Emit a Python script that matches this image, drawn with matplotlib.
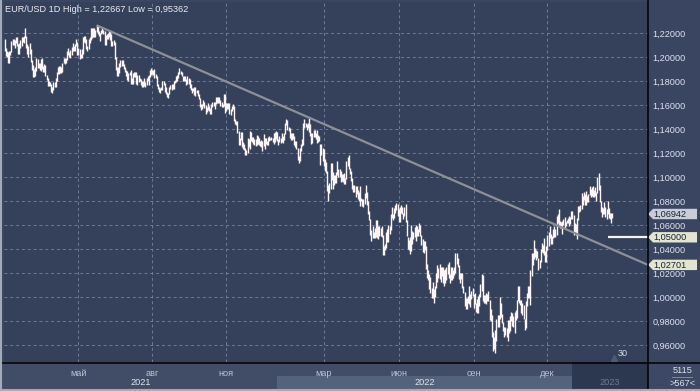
import numpy as np
import pandas as pd
import matplotlib
matplotlib.use("Agg")
import matplotlib.pyplot as plt
from matplotlib.patches import Rectangle, Polygon
from matplotlib.transforms import blended_transform_factory

plt.rcParams["font.family"] = ["Liberation Sans", "DejaVu Sans"]

# --- donnees (barres journalieres EUR/USD, plus haut / plus bas) ---
hi_2021 = [
    1.2150, 1.2080, 1.2050, 1.2040, 1.2050, 1.2055, 1.2135, 1.2150, 1.2150, 1.2140, 1.2170, 1.2170, 1.2110, 1.2120, 1.2145, 1.2170, 1.2170, 1.2180, 1.2243, 1.2180,  # fev
    1.2110, 1.2095, 1.2115, 1.2070, 1.1975, 1.1935, 1.1905, 1.1915, 1.1990, 1.1985, 1.1950, 1.1955, 1.1985, 1.1990, 1.1930, 1.1945, 1.1935, 1.1850, 1.1830, 1.1800, 1.1795, 1.1775, 1.1750,  # mar
    1.1790, 1.1790, 1.1830, 1.1880, 1.1915, 1.1930, 1.1925, 1.1915, 1.1955, 1.1990, 1.1990, 1.1995, 1.2050, 1.2080, 1.2045, 1.2060, 1.2085, 1.2115, 1.2090, 1.2110, 1.2150, 1.2125,  # avr
    1.2080, 1.2065, 1.2030, 1.2070, 1.2170, 1.2180, 1.2180, 1.2150, 1.2090, 1.2150, 1.2165, 1.2245, 1.2240, 1.2245, 1.2245, 1.2230, 1.22667, 1.2265, 1.2215, 1.2205, 1.2230,  # mai
    1.2255, 1.2230, 1.2215, 1.2185, 1.2195, 1.2200, 1.2220, 1.2220, 1.2190, 1.2135, 1.2140, 1.2130, 1.2000, 1.1920, 1.1920, 1.1955, 1.1975, 1.1975, 1.1975, 1.1945, 1.1920, 1.1895,  # juin
    1.1885, 1.1870, 1.1880, 1.1895, 1.1825, 1.1870, 1.1880, 1.1880, 1.1880, 1.1850, 1.1850, 1.1825, 1.1815, 1.1805, 1.1800, 1.1830, 1.1790, 1.1830, 1.1840, 1.1850, 1.1895, 1.1910,  # juil
    1.1895, 1.1890, 1.1900, 1.1860, 1.1840, 1.1775, 1.1755, 1.1740, 1.1750, 1.1800, 1.1800, 1.1785, 1.1750, 1.1710, 1.1705, 1.1750, 1.1765, 1.1775, 1.1780, 1.1805, 1.1810, 1.1845,  # aout
    1.1855, 1.1875, 1.1909, 1.1885, 1.1880, 1.1845, 1.1845, 1.1845, 1.1815, 1.1845, 1.1830, 1.1820, 1.1775, 1.1740, 1.1745, 1.1750, 1.1750, 1.1725, 1.1725, 1.1690, 1.1660, 1.1610,  # sep
    1.1610, 1.1640, 1.1625, 1.1600, 1.1585, 1.1620, 1.1590, 1.1575, 1.1610, 1.1625, 1.1625, 1.1625, 1.1670, 1.1665, 1.1670, 1.1665, 1.1640, 1.1625, 1.1610, 1.1692, 1.1690,  # oct
    1.1615, 1.1615, 1.1620, 1.1615, 1.1570, 1.1590, 1.1610, 1.1595, 1.1485, 1.1465, 1.1465, 1.1385, 1.1325, 1.1375, 1.1375, 1.1290, 1.1275, 1.1245, 1.1225, 1.1325, 1.1315, 1.1385,  # nov
    1.1380, 1.1335, 1.1335, 1.1315, 1.1320, 1.1355, 1.1345, 1.1325, 1.1305, 1.1310, 1.1300, 1.1360, 1.1330, 1.1330, 1.1305, 1.1335, 1.1340, 1.1330, 1.1335, 1.1330, 1.1365, 1.1375, 1.1385,  # dec
]
lo_2021 = [
    1.2055, 1.2010, 1.2005, 1.1955, 1.1952, 1.2015, 1.2040, 1.2100, 1.2105, 1.2080, 1.2115, 1.2090, 1.2025, 1.2025, 1.2080, 1.2090, 1.2130, 1.2115, 1.2160, 1.2075,
    1.2025, 1.2000, 1.2030, 1.1960, 1.1893, 1.1835, 1.1835, 1.1840, 1.1885, 1.1910, 1.1910, 1.1895, 1.1885, 1.1900, 1.1875, 1.1875, 1.1840, 1.1810, 1.1760, 1.1760, 1.1760, 1.1710, 1.1704,
    1.1730, 1.1750, 1.1750, 1.1800, 1.1860, 1.1860, 1.1870, 1.1870, 1.1880, 1.1950, 1.1945, 1.1950, 1.1980, 1.2020, 1.2000, 1.1995, 1.2015, 1.2055, 1.2050, 1.2055, 1.2095, 1.2015,
    1.2015, 1.1985, 1.1990, 1.1990, 1.2030, 1.2125, 1.2120, 1.2070, 1.2050, 1.2070, 1.2120, 1.2140, 1.2160, 1.2170, 1.2170, 1.2165, 1.2210, 1.2195, 1.2175, 1.2135, 1.2190,
    1.2200, 1.2190, 1.2105, 1.2105, 1.2155, 1.2155, 1.2170, 1.2145, 1.2095, 1.2090, 1.2105, 1.1985, 1.1890, 1.1847, 1.1845, 1.1870, 1.1915, 1.1925, 1.1930, 1.1905, 1.1880, 1.1845,
    1.1810, 1.1805, 1.1850, 1.1780, 1.1780, 1.1780, 1.1835, 1.1835, 1.1775, 1.1770, 1.1790, 1.1800, 1.1765, 1.1755, 1.1752, 1.1760, 1.1750, 1.1765, 1.1800, 1.1770, 1.1835, 1.1855,
    1.1860, 1.1850, 1.1825, 1.1825, 1.1760, 1.1735, 1.1710, 1.1705, 1.1725, 1.1730, 1.1765, 1.1710, 1.1695, 1.1665, 1.1664, 1.1690, 1.1735, 1.1725, 1.1735, 1.1735, 1.1785, 1.1790,
    1.1800, 1.1825, 1.1860, 1.1860, 1.1840, 1.1800, 1.1800, 1.1805, 1.1770, 1.1780, 1.1780, 1.1745, 1.1725, 1.1700, 1.1715, 1.1685, 1.1680, 1.1700, 1.1675, 1.1650, 1.1585, 1.1563,
    1.1570, 1.1590, 1.1580, 1.1530, 1.1545, 1.1560, 1.1550, 1.1525, 1.1530, 1.1585, 1.1590, 1.1570, 1.1610, 1.1620, 1.1620, 1.1620, 1.1590, 1.1585, 1.1585, 1.1590, 1.1535,
    1.1555, 1.1570, 1.1570, 1.1530, 1.1515, 1.1555, 1.1570, 1.1465, 1.1445, 1.1432, 1.1370, 1.1265, 1.1265, 1.1310, 1.1250, 1.1235, 1.1225, 1.1186, 1.1185, 1.1205, 1.1255, 1.1235,
    1.1305, 1.1290, 1.1275, 1.1270, 1.1260, 1.1265, 1.1275, 1.1265, 1.1260, 1.1255, 1.1222, 1.1260, 1.1235, 1.1275, 1.1265, 1.1270, 1.1300, 1.1310, 1.1310, 1.1290, 1.1280, 1.1295, 1.1320,
]
hi_2022 = [
    1.1375, 1.1320, 1.1345, 1.1330, 1.1365, 1.1345, 1.1370, 1.1450, 1.1482, 1.1480, 1.1420, 1.1410, 1.1365, 1.1370, 1.1365, 1.1340, 1.1305, 1.1300, 1.1245, 1.1175, 1.1240,  # jan
    1.1275, 1.1320, 1.1450, 1.1485, 1.1450, 1.1445, 1.1450, 1.1495, 1.1440, 1.1370, 1.1365, 1.1395, 1.1395, 1.1370, 1.1395, 1.1355, 1.1345, 1.1275, 1.1275, 1.1245,  # fev
    1.1235, 1.1150, 1.1125, 1.1055, 1.0935, 1.0950, 1.1120, 1.1120, 1.1040, 1.1015, 1.1015, 1.1040, 1.1137, 1.1070, 1.1070, 1.1050, 1.1030, 1.1030, 1.1035, 1.0990, 1.1135, 1.1170, 1.1185,  # mar
    1.1075, 1.1050, 1.0995, 1.0935, 1.0935, 1.0925, 1.0925, 1.0895, 1.0880, 1.0925, 1.0830, 1.0820, 1.0815, 1.0865, 1.0935, 1.0880, 1.0800, 1.0720, 1.0655, 1.0560, 1.0595,  # avr
    1.0540, 1.0575, 1.0640, 1.0640, 1.0590, 1.0595, 1.0580, 1.0595, 1.0515, 1.0425, 1.0440, 1.0545, 1.0565, 1.0605, 1.0595, 1.0690, 1.0750, 1.0690, 1.0740, 1.0765, 1.0787, 1.0775,  # mai
    1.0735, 1.0750, 1.0765, 1.0750, 1.0705, 1.0750, 1.0775, 1.0640, 1.0500, 1.0475, 1.0500, 1.0600, 1.0550, 1.0545, 1.0585, 1.0605, 1.0590, 1.0565, 1.0615, 1.0605, 1.0520, 1.0485,  # juin
    1.0465, 1.0465, 1.0430, 1.0275, 1.0225, 1.0190, 1.0165, 1.0075, 1.0125, 1.0065, 1.0095, 1.0200, 1.0270, 1.0245, 1.0278, 1.0255, 1.0255, 1.0250, 1.0225, 1.0235, 1.0255,  # juil
    1.0275, 1.0295, 1.0195, 1.0255, 1.0250, 1.0230, 1.0250, 1.0368, 1.0365, 1.0330, 1.0270, 1.0200, 1.0200, 1.0200, 1.0090, 1.0045, 0.9995, 0.9990, 1.0010, 1.0090, 1.0030, 1.0055, 1.0080,  # aout
    1.0030, 1.0035, 0.9955, 0.9985, 1.0010, 1.0030, 1.0110, 1.0198, 1.0185, 1.0020, 1.0015, 1.0035, 1.0025, 1.0050, 0.9975, 0.9905, 0.9850, 0.9710, 0.9670, 0.9730, 0.9815, 0.9855,  # sep
    0.9855, 0.9999, 0.9955, 0.9860, 0.9790, 0.9750, 0.9755, 0.9745, 0.9810, 0.9810, 0.9845, 0.9875, 0.9870, 0.9845, 0.9875, 0.9890, 0.9975, 1.0090, 1.0093, 0.9980, 0.9975,  # oct
    0.9955, 0.9935, 0.9820, 0.9965, 1.0035, 1.0095, 1.0095, 1.0225, 1.0365, 1.0365, 1.0481, 1.0410, 1.0395, 1.0385, 1.0330, 1.0310, 1.0405, 1.0450, 1.0435, 1.0495, 1.0385, 1.0430,  # nov
    1.0520, 1.0545, 1.0595, 1.0525, 1.0510, 1.0565, 1.0590, 1.0565, 1.0675, 1.0695, 1.0736, 1.0635, 1.0625, 1.0635, 1.0655, 1.0665, 1.0630, 1.0645, 1.0660, 1.0675, 1.0665, 1.0715,  # dec
]
lo_2022 = [
    1.1300, 1.1272, 1.1290, 1.1285, 1.1290, 1.1285, 1.1310, 1.1360, 1.1435, 1.1395, 1.1385, 1.1330, 1.1310, 1.1310, 1.1315, 1.1270, 1.1255, 1.1235, 1.1140, 1.1121, 1.1135,
    1.1220, 1.1260, 1.1265, 1.1410, 1.1415, 1.1395, 1.1410, 1.1375, 1.1345, 1.1280, 1.1285, 1.1335, 1.1335, 1.1315, 1.1285, 1.1290, 1.1305, 1.1106, 1.1185, 1.1135,
    1.1090, 1.1055, 1.1035, 1.0885, 1.0806, 1.0865, 1.0905, 1.0975, 1.0905, 1.0935, 1.0955, 1.0955, 1.1015, 1.1005, 1.1000, 1.0960, 1.0965, 1.0960, 1.0945, 1.0945, 1.0985, 1.1090, 1.1065,
    1.1025, 1.0970, 1.0900, 1.0880, 1.0875, 1.0835, 1.0860, 1.0820, 1.0805, 1.0760, 1.0800, 1.0760, 1.0755, 1.0780, 1.0830, 1.0770, 1.0695, 1.0640, 1.0515, 1.0470, 1.0495,
    1.0490, 1.0495, 1.0505, 1.0490, 1.0485, 1.0510, 1.0510, 1.0505, 1.0350, 1.0355, 1.0390, 1.0410, 1.0460, 1.0460, 1.0530, 1.0560, 1.0660, 1.0640, 1.0660, 1.0700, 1.0725, 1.0680,
    1.0630, 1.0625, 1.0705, 1.0690, 1.0655, 1.0675, 1.0630, 1.0510, 1.0400, 1.0395, 1.0360, 1.0385, 1.0445, 1.0485, 1.0500, 1.0470, 1.0510, 1.0510, 1.0545, 1.0510, 1.0435, 1.0380,
    1.0365, 1.0395, 1.0235, 1.0160, 1.0145, 1.0070, 1.0035, 0.9998, 0.9998, 0.9952, 1.0005, 1.0075, 1.0125, 1.0160, 1.0150, 1.0130, 1.0180, 1.0115, 1.0095, 1.0115, 1.0145,
    1.0195, 1.0160, 1.0120, 1.0145, 1.0140, 1.0160, 1.0185, 1.0200, 1.0275, 1.0250, 1.0155, 1.0120, 1.0150, 1.0080, 1.0035, 0.9925, 0.9901, 0.9905, 0.9950, 0.9945, 0.9915, 0.9985, 1.0010,
    0.9910, 0.9945, 0.9875, 0.9865, 0.9865, 0.9930, 1.0000, 1.0050, 0.9965, 0.9955, 0.9955, 0.9945, 0.9965, 0.9965, 0.9810, 0.9805, 0.9670, 0.9555, 0.9570, 0.95362, 0.9635, 0.9750,
    0.9750, 0.9820, 0.9835, 0.9785, 0.9720, 0.9670, 0.9685, 0.9670, 0.9632, 0.9705, 0.9720, 0.9800, 0.9760, 0.9755, 0.9705, 0.9810, 0.9825, 0.9965, 0.9955, 0.9935, 0.9870,
    0.9850, 0.9815, 0.9730, 0.9745, 0.9925, 0.9990, 0.9995, 0.9935, 1.0175, 1.0270, 1.0320, 1.0335, 1.0310, 1.0325, 1.0225, 1.0240, 1.0290, 1.0380, 1.0365, 1.0355, 1.0290, 1.0290,
    1.0395, 1.0430, 1.0495, 1.0445, 1.0445, 1.0490, 1.0500, 1.0500, 1.0520, 1.0615, 1.0595, 1.0580, 1.0575, 1.0525, 1.0600, 1.0575, 1.0590, 1.0615, 1.0615, 1.0595, 1.0610, 1.0650,
]
hi_2023 = [
    1.0715, 1.0685, 1.0620, 1.0610, 1.0660, 1.0760, 1.0760, 1.0765, 1.0865, 1.0845, 1.0875, 1.0860, 1.0885, 1.0845, 1.0860, 1.0925, 1.0905, 1.0915, 1.0930, 1.0895, 1.0915, 1.0875,  # jan
    1.1000, 1.1033, 1.0935, 1.0805, 1.0750, 1.0740, 1.0790, 1.0755, 1.0735, 1.0805, 1.0740, 1.0705, 1.0705, 1.0705,  # fev
]
lo_2023 = [
    1.0655, 1.0520, 1.0545, 1.0520, 1.0482, 1.0640, 1.0710, 1.0715, 1.0735, 1.0770, 1.0810, 1.0765, 1.0765, 1.0790, 1.0795, 1.0855, 1.0835, 1.0845, 1.0835, 1.0835, 1.0845, 1.0800,
    1.0870, 1.0895, 1.0795, 1.0710, 1.0670, 1.0690, 1.0695, 1.0665, 1.0655, 1.0690, 1.0660, 1.0650, 1.0615, 1.0660,
]

PREMIER_JOUR = "2021-02-01"
N_VISIBLES = 567          # barres visibles (">567<" dans le coin)
DERNIER = 1.06942         # dernier cours (etiquette grise)
NIVEAU = 1.05000          # ligne horizontale blanche
NIVEAU_DEPUIS = "2023-02-14"
TENDANCE_DEBUT = ("2021-05-25", 1.22667)
TENDANCE_FIN = 1.02701    # valeur de la droite au bord droit

MOIS_TICKS = ["2021-05", "2021-08", "2021-11", "2022-03", "2022-06", "2022-09", "2022-12"]
MOIS_NOMS = ["май", "авг", "ноя", "мар", "июн", "сен", "дек"]
ANNEES = [2021, 2022, 2023]
Y_TICKS = [0.96, 0.98, 1.00, 1.02, 1.04, 1.06, 1.08, 1.10, 1.12, 1.14, 1.16, 1.18, 1.20, 1.22]
Y_LIM = (0.94608, 1.24608)

# couleurs
FOND = "#35415b"
BANDE = "#3a4661"
RANG_MOIS = "#414d66"
RANG_2022 = "#55627b"
BLOC_2023 = "#2c3750"
COIN = "#3d4964"
GRILLE = "#6b7b98"
BARRE = "#fdf5f5"
TEXTE = "#dde2ec"

hi = hi_2021 + hi_2022 + hi_2023
lo = lo_2021 + lo_2022 + lo_2023
dates = pd.bdate_range(PREMIER_JOUR, periods=len(hi))
idx = np.arange(len(hi))
XL, XR = -0.5, N_VISIBLES - 0.5


def barre(jour):
    return int(dates.searchsorted(pd.Timestamp(jour)))


def virgule(v):
    return f"{v:.5f}".replace(".", ",")


W, H = 700, 391
fig = plt.figure(figsize=(W / 100, H / 100), dpi=100)
fig.patch.set_facecolor(BANDE)

# fond (pixels)
bg = fig.add_axes([0, 0, 1, 1], zorder=0)
bg.set_xlim(0, W)
bg.set_ylim(H, 0)
bg.axis("off")
bg.add_patch(Rectangle((0, 362), 648, 29, color=RANG_MOIS, lw=0))
bg.add_patch(Rectangle((648, 362), 52, 29, color=COIN, lw=0))

ax = fig.add_axes([4 / W, 1 - 362 / H, 644 / W, 360 / H], zorder=1)
ax.set_facecolor(FOND)
for s in ax.spines.values():
    s.set_visible(False)
ax.set_xlim(XL, XR)
ax.set_ylim(*Y_LIM)

# grille
ax.set_axisbelow(True)
ax.set_yticks(Y_TICKS)
ax.set_yticklabels([virgule(v) for v in Y_TICKS])
ax.set_xticks([barre(m + "-01") for m in MOIS_TICKS])
ax.set_xticklabels(MOIS_NOMS)
ax.grid(True, color=GRILLE, lw=0.7, ls=(0, (3, 3)))
ax.yaxis.tick_right()
ax.tick_params(axis="y", length=0, pad=3, labelsize=6.6, labelcolor=TEXTE)
ax.tick_params(axis="x", length=0, pad=5, labelsize=6.6, labelcolor="#bcc4d3")

# barres
ax.vlines(idx, lo, hi, color=BARRE, lw=1.0, zorder=3)

# droite de tendance et niveau
t0 = barre(TENDANCE_DEBUT[0])
ax.plot([t0, XR], [TENDANCE_DEBUT[1], TENDANCE_FIN], color="#8d9096", lw=1.6,
        solid_capstyle="butt", zorder=4)
ax.hlines(NIVEAU, barre(NIVEAU_DEPUIS), XR, color="#f4f4f4", lw=1.6, zorder=4)

ax.text(0.002, 0.992, f"EUR/USD 1D High = {virgule(max(hi))} Low = {virgule(min(lo))}",
        transform=ax.transAxes, ha="left", va="top", fontsize=6.6, color="#e8ecf3", zorder=6)
ax.text(0.961, 0.012, "30", transform=ax.transAxes, ha="center", va="bottom",
        fontsize=6.6, color="#d6dbe4", zorder=6)
ax.plot([0.947], [0.012], marker="^", ms=4, color="#4e5a73", transform=ax.transAxes,
        clip_on=False, zorder=5)

# bandes des annees sous l'axe (sous les etiquettes des mois)
bx = blended_transform_factory(ax.transData, ax.transAxes)
for a in ANNEES:
    d = max(barre(f"{a}-01-01") - 0.5, XL)
    f = XR if a == ANNEES[-1] else barre(f"{a + 1}-01-01") - 0.5
    if a == 2022:
        ax.add_patch(Rectangle((d, -0.075), f - d, 0.0375, transform=bx, color=RANG_2022,
                               lw=0, clip_on=False, zorder=0.1))
    if a == 2023:
        ax.add_patch(Rectangle((d, -0.075), f - d, 0.075, transform=bx, color=BLOC_2023,
                               lw=0, clip_on=False, zorder=0.1))
    ax.text((d + f) / 2, -0.058, str(a), transform=bx, ha="center", va="center",
            fontsize=6.6, color="#6f7a92" if a == 2023 else "#dfe4ec", clip_on=False)

# etiquettes de prix a droite
by = blended_transform_factory(ax.transAxes, ax.transData)
dy = (Y_LIM[1] - Y_LIM[0]) / 360 * 5.2
for v, fc in [(DERNIER, "#c9cdd6"), (NIVEAU, "#e2e5cf"), (TENDANCE_FIN, "#e2e5cf")]:
    pts = [(1.0, v), (1.0078, v + dy), (1.0761, v + dy), (1.0761, v - dy), (1.0078, v - dy)]
    ax.add_patch(Polygon(pts, closed=True, transform=by, fc=fc, ec="none",
                         clip_on=False, zorder=7))
    ax.text(1.0085, v, virgule(v), transform=by, ha="left", va="center",
            fontsize=6.6, color="#1c2333", clip_on=False, zorder=8)

# cadre et coin
top = fig.add_axes([0, 0, 1, 1], zorder=10)
top.set_xlim(0, W)
top.set_ylim(H, 0)
top.axis("off")
top.patch.set_visible(False)
top.plot([648, 648], [0, H], color="black", lw=1.1)
top.plot([0, W], [362.5, 362.5], color="black", lw=1.1)
top.plot([1, 1], [0, H], color="#a3abbb", lw=1.5)
top.plot([0, W], [390, 390], color="#a3abbb", lw=1.5)
top.plot([672, 692], [377, 377], color="#8a94a8", lw=0.6)
top.text(683, 370.5, "5115", ha="center", va="center", fontsize=6.6, color=TEXTE)
top.text(683, 384, ">567<", ha="center", va="center", fontsize=6.6, color=TEXTE)

fig.savefig("out.png", dpi=100, facecolor=fig.get_facecolor())
